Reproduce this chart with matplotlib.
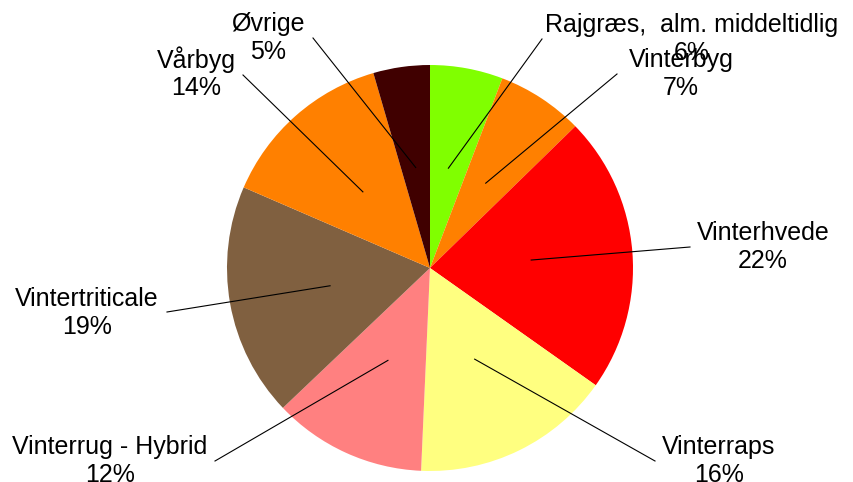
import matplotlib
matplotlib.use("Agg")
import matplotlib.pyplot as plt
import numpy as np

categories = ["Rajgræs,  alm. middeltidlig", "Vinterbyg", "Vinterhvede", "Vinterraps",
              "Vinterrug - Hybrid", "Vintertriticale", "Vårbyg", "Øvrige"]
values = [5.8, 6.9, 22.1, 15.9, 12.2, 18.6, 14.0, 4.5]
pct_labels = ["6%", "7%", "22%", "16%", "12%", "19%", "14%", "5%"]
colors = ["#80FF00", "#FF8000", "#FF0000", "#FFFF80", "#FF8080", "#806040", "#FF8000", "#400000"]

W, H = 854, 482
# layout (pixel coords, y downwards)
center = (430, 268)
radius = 203
label_pos = [(692, 25), (681, 60), (763, 233), (719, 447), (110, 447), (87, 299), (196, 60), (268, 24)]
line_end = [(542, 39), (617, 74), (690, 247), (655, 461), (215, 461), (167, 312), (243, 75), (313, 38)]

plt.rcParams['font.family'] = ['Liberation Sans', 'DejaVu Sans']
fig = plt.figure(figsize=(W / 100, H / 100), dpi=100)
ax = fig.add_axes([0, 0, 1, 1])
wedges, _ = ax.pie(values, colors=colors, startangle=90, counterclock=False,
                   center=(center[0], H - center[1]), radius=radius,
                   wedgeprops=dict(linewidth=0))
ax.set_xlim(0, W)
ax.set_ylim(0, H)
ax.set_aspect('equal')
ax.axis('off')

total = sum(values)
cum = 0
for i, v in enumerate(values):
    mid = 90 - 360 * (cum + v / 2) / total
    cum += v
    r = 0.5 * radius
    x0 = center[0] + r * np.cos(np.radians(mid))
    y0 = (H - center[1]) + r * np.sin(np.radians(mid))
    ex, ey = line_end[i]
    ax.plot([x0, ex], [y0, H - ey], color='black', lw=0.8, zorder=3)
    lx, ly = label_pos[i]
    ax.text(lx, H - ly, categories[i], ha='center', va='center', fontsize=18, zorder=4)
    ax.text(lx, H - ly - 28, pct_labels[i], ha='center', va='center', fontsize=18, zorder=4)

fig.savefig("out.png", dpi=100)
